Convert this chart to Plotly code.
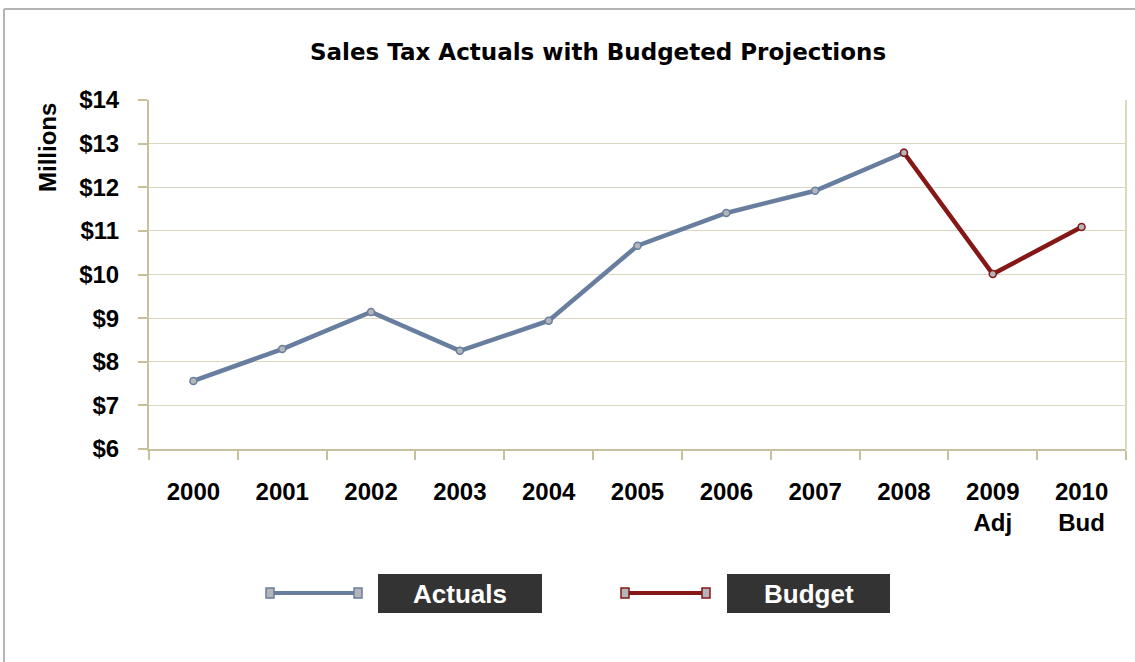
import plotly.graph_objects as go

categories = ["2000", "2001", "2002", "2003", "2004", "2005", "2006", "2007", "2008", "2009<br>Adj", "2010<br>Bud"]
actuals = [7.56, 8.29, 9.14, 8.25, 8.94, 10.66, 11.41, 11.92, 12.79, None, None]
budget = [None, None, None, None, None, None, None, None, 12.79, 10.01, 11.09]
y_ticks = [6, 7, 8, 9, 10, 11, 12, 13, 14]
y_labels = ["$6", "$7", "$8", "$9", "$10", "$11", "$12", "$13", "$14"]

ACT = "#687E9F"
BUD = "#851717"
GRID = "#DCD8C0"
AXIS = "#C8C09C"

W, H = 1135, 662
L, R, T, B = 149, 9, 100, 213
PW, PH = W - L - R, H - T - B

def px(x):
    return (x - L) / PW

def py(y):
    return (H - B - y) / PH

fig = go.Figure()
fig.add_trace(go.Scatter(
    x=categories, y=actuals, mode="lines+markers", name="Actuals",
    line=dict(color=ACT, width=4.5),
    marker=dict(size=7, color="#B4B6BA", line=dict(color=ACT, width=1.5)),
    showlegend=False, connectgaps=False))
fig.add_trace(go.Scatter(
    x=categories, y=budget, mode="lines+markers", name="Budget",
    line=dict(color=BUD, width=4.5),
    marker=dict(size=7, color="#B4B6BA", line=dict(color=BUD, width=1.5)),
    showlegend=False, connectgaps=False))

font_ax = dict(family="Liberation Sans, Arial, sans-serif", size=24, color="#000000")

fig.update_layout(
    width=W, height=H,
    margin=dict(l=L, r=R, t=T, b=B),
    paper_bgcolor="white", plot_bgcolor="white",
    xaxis=dict(
        type="category", tickson="boundaries", ticks="outside", ticklen=9,
        tickcolor=AXIS, tickwidth=1.5, showgrid=False,
        showline=True, linecolor=AXIS, linewidth=2,
        tickfont=font_ax, range=[-0.5, 10.5], ticklabelstandoff=20,
        tickprefix="<b>", ticksuffix="</b>",
    ),
    yaxis=dict(
        range=[6, 14], tickvals=y_ticks, ticktext=["<b>" + t + "</b>" for t in y_labels],
        ticks="outside", ticklen=9, tickcolor=AXIS, tickwidth=1.5,
        showgrid=True, gridcolor=GRID, gridwidth=1.2,
        showline=True, linecolor=AXIS, linewidth=2, zeroline=False,
        tickfont=font_ax, ticklabelstandoff=14,
    ),
    showlegend=False,
)

shapes = []
shapes.append(dict(type="line", xref="paper", yref="paper", x0=1, x1=1, y0=0, y1=1,
                   line=dict(color=GRID, width=2)))
shapes.append(dict(type="line", xref="paper", yref="paper", x0=px(4), x1=px(1135), y0=py(9), y1=py(9),
                   line=dict(color="#B4B4B4", width=2)))
shapes.append(dict(type="line", xref="paper", yref="paper", x0=px(4), x1=px(4), y0=py(9), y1=py(662),
                   line=dict(color="#B4B4B4", width=2)))

annotations = []
annotations.append(dict(xref="paper", yref="paper", x=px(598), y=py(52), xanchor="center", yanchor="middle",
                        text="<b>Sales Tax Actuals with Budgeted Projections</b>", showarrow=False,
                        font=dict(family="DejaVu Sans, sans-serif", size=23, color="#000000")))
annotations.append(dict(xref="paper", yref="paper", x=px(48), y=py(148), xanchor="center", yanchor="middle",
                        text="<b>Millions</b>", textangle=-90, showarrow=False,
                        font=dict(family="Liberation Sans, Arial, sans-serif", size=24, color="#000000")))

legend_items = [("Actuals", ACT, 270, 358, 378, 542), ("Budget", BUD, 625, 706, 727, 890)]
ly = 593
for name, col, x0, x1, bx0, bx1 in legend_items:
    shapes.append(dict(type="line", xref="paper", yref="paper", x0=px(x0), x1=px(x1), y0=py(ly), y1=py(ly),
                       line=dict(color=col, width=4)))
    for cx in (x0, x1):
        shapes.append(dict(type="rect", xref="paper", yref="paper", x0=px(cx - 4), x1=px(cx + 4),
                           y0=py(ly + 5), y1=py(ly - 5), fillcolor="#B4B6BA",
                           line=dict(color=col, width=1.5)))
    shapes.append(dict(type="rect", xref="paper", yref="paper", x0=px(bx0), x1=px(bx1),
                       y0=py(613), y1=py(574), fillcolor="#333333", line=dict(width=0)))
    annotations.append(dict(xref="paper", yref="paper", x=px((bx0 + bx1) / 2), y=py(593.5),
                            xanchor="center", yanchor="middle", text="<b>" + name + "</b>", showarrow=False,
                            font=dict(family="Liberation Sans, Arial, sans-serif", size=26, color="#FFFFFF")))

fig.update_layout(shapes=shapes, annotations=annotations)
fig.write_html("out.html")
